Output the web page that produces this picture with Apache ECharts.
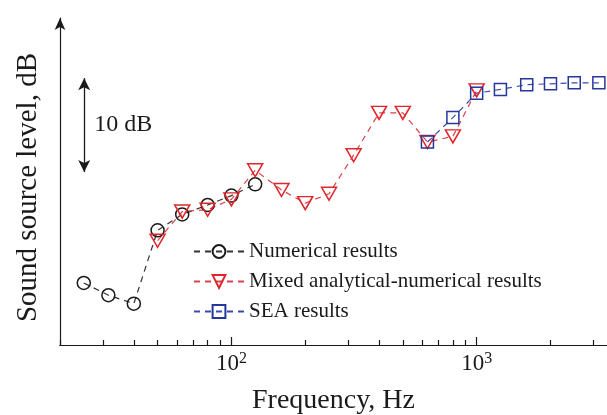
<!DOCTYPE html>
<html>
<head>
<meta charset="utf-8">
<script src="https://cdn.jsdelivr.net/npm/echarts@6/dist/echarts.min.js"></script>
<style>
  html, body { margin: 0; padding: 0; background: #fff; }
  #main { width: 607px; height: 415px; }
</style>
</head>
<body>
<div id="main"></div>
<script>
// 1/3-octave band centres (Hz) and levels (dB, arbitrary reference)
const numFreq = [25, 31.5, 40, 50, 63, 80, 100, 125]
const numLevel = [6.6, 5.3, 4.4, 12.2, 13.9, 14.9, 15.9, 17.1]
const mixFreq = [50, 63, 80, 100, 125, 160, 200, 250, 315, 400, 500, 630, 800, 1000]
const mixLevel = [11.1, 14.2, 14.4, 15.5, 18.6, 16.5, 15.1, 16.1, 20.2, 24.7, 24.7, 21.6, 22.2, 27.1]
const seaFreq = [630, 800, 1000, 1250, 1600, 2000, 2500, 3150]
const seaLevel = [21.6, 24.2, 26.8, 27.2, 27.7, 27.8, 27.9, 27.9]
const majorTicks = [100, 1000]
const minorTicks = [20, 30, 40, 50, 60, 70, 80, 90, 200, 300, 400, 500, 600, 700, 800, 900, 2000, 3000]
const seriesNames = ['Numerical results', 'Mixed analytical-numerical results', 'SEA results']
// 10 dB scale bar
const barFreq = 25.1
const barLevels = [18.4, 28.4]

const font = 'Liberation Serif'
const ink = '#1a1a1a'
const xMin = 20, xMax = 3400

function pairs(xs, ys) {
  return xs.map((x, i) => [x, ys[i]])
}

const myChart = echarts.init(document.getElementById('main'))

const option = {
  animation: false,
  backgroundColor: '#fff',
  textStyle: { fontFamily: font, color: ink },
  grid: { left: 60, right: 0, top: 18, bottom: 70, outerBoundsMode: 'none' },
  legend: {
    orient: 'vertical',
    left: 188,
    top: 236,
    itemWidth: 50,
    itemHeight: 16,
    itemGap: 9,
    data: seriesNames,
    textStyle: { fontFamily: font, fontSize: 21, color: ink }
  },
  xAxis: [
    {
      type: 'log',
      min: xMin,
      max: xMax,
      position: 'bottom',
      name: 'Frequency, Hz',
      nameLocation: 'middle',
      nameGap: 42,
      nameTextStyle: { fontFamily: font, fontSize: 28, color: ink },
      axisLine: { onZero: false, lineStyle: { color: ink, width: 1.2 } },
      axisTick: { show: true, inside: true, length: 8, customValues: majorTicks, lineStyle: { color: ink, width: 1.2 } },
      axisLabel: {
        customValues: majorTicks,
        margin: 6,
        fontFamily: font,
        fontSize: 22,
        color: ink,
        formatter: v => '{b|10}{s|' + Math.round(Math.log10(v)) + '}',
        rich: {
          b: { fontFamily: font, fontSize: 23, color: ink, lineHeight: 26 },
          s: { fontFamily: font, fontSize: 16, color: ink, verticalAlign: 'top', lineHeight: 26 }
        }
      },
      splitLine: { show: false }
    },
    {
      type: 'log',
      min: xMin,
      max: xMax,
      position: 'bottom',
      axisLine: { show: true, onZero: false, lineStyle: { color: ink, width: 1.2 } },
      axisTick: { show: true, inside: true, length: 5, customValues: minorTicks, lineStyle: { color: ink, width: 1.2 } },
      axisLabel: { show: false },
      splitLine: { show: false }
    }
  ],
  yAxis: {
    type: 'value',
    min: 0,
    max: 34.8,
    name: 'Sound source level, dB',
    nameLocation: 'middle',
    nameGap: 17,
    nameTextStyle: { fontFamily: font, fontSize: 29, color: ink, padding: [0, 12, 0, 0] },
    axisLine: { show: true, onZero: false, symbol: ['none', 'arrow'], symbolSize: [8, 12], lineStyle: { color: ink, width: 1.2 } },
    axisTick: { show: false },
    axisLabel: { show: false },
    splitLine: { show: false }
  },
  series: [
    {
      name: seriesNames[0],
      type: 'line',
      data: pairs(numFreq, numLevel),
      symbol: 'circle',
      symbolSize: 13,
      itemStyle: { color: 'rgba(0,0,0,0)', borderColor: '#1a1a1a', borderWidth: 1.5 },
      lineStyle: { color: '#333', width: 1.2, type: [6, 5] },
      clip: false,
      markLine: {
        silent: true,
        symbol: ['arrow', 'arrow'],
        symbolSize: [9, 12],
        label: { show: false },
        lineStyle: { color: ink, width: 1.3, type: 'solid' },
        data: [[{ coord: [barFreq, barLevels[0]] }, { coord: [barFreq, barLevels[1]] }]]
      },
      markPoint: {
        silent: true,
        symbolSize: 0,
        label: { show: true, position: 'right', distance: 10, formatter: '10 dB', fontFamily: font, fontSize: 24, color: ink },
        data: [{ coord: [barFreq, (barLevels[0] + barLevels[1]) / 2] }]
      }
    },
    {
      name: seriesNames[1],
      type: 'line',
      data: pairs(mixFreq, mixLevel),
      symbol: 'triangle',
      symbolRotate: 180,
      symbolSize: [15, 13],
      itemStyle: { color: 'rgba(0,0,0,0)', borderColor: '#e0262b', borderWidth: 1.5 },
      lineStyle: { color: '#d9434a', width: 1.2, type: [6, 5] },
      clip: false
    },
    {
      name: seriesNames[2],
      type: 'line',
      data: pairs(seaFreq, seaLevel),
      symbol: 'rect',
      symbolSize: 12,
      itemStyle: { color: 'rgba(0,0,0,0)', borderColor: '#26379a', borderWidth: 1.5 },
      lineStyle: { color: '#3a4aa8', width: 1.2, type: [6, 5] },
      clip: false
    }
  ]
}

myChart.setOption(option)
</script>
</body>
</html>
